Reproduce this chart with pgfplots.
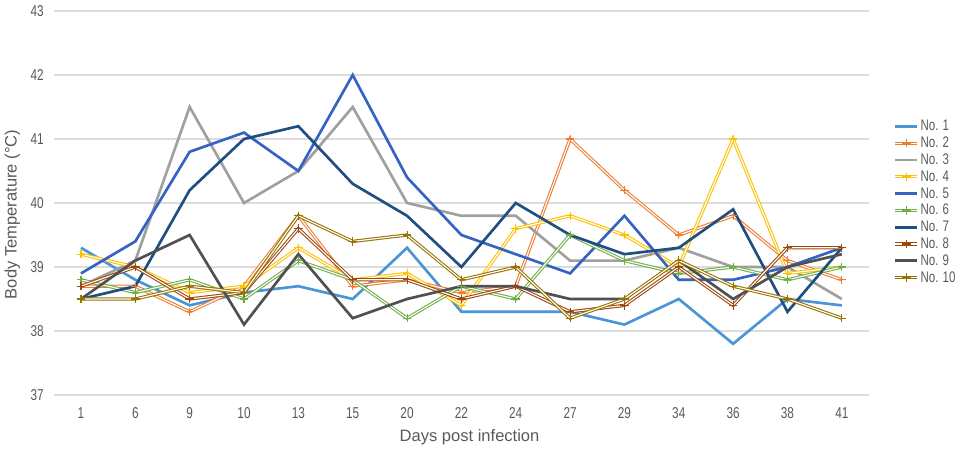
\documentclass[border=0pt]{standalone}
\usepackage{pgfplots}
\pgfplotsset{compat=1.18}
\usepackage{fontspec}
\setmainfont{Liberation Sans}
\newfontfamily\narrowfont[FakeStretch=0.75]{Liberation Sans}
\definecolor{c1}{HTML}{4A94D8}
\definecolor{c2}{HTML}{ED7D31}
\definecolor{c3}{HTML}{A0A0A0}
\definecolor{c4}{HTML}{FFC000}
\definecolor{c5}{HTML}{3463C4}
\definecolor{c6}{HTML}{70AD47}
\definecolor{c7}{HTML}{1F4E82}
\definecolor{c8}{HTML}{9E480E}
\definecolor{c9}{HTML}{505050}
\definecolor{c10}{HTML}{997300}
\definecolor{txt}{HTML}{595959}
\definecolor{gridc}{HTML}{DCDCDC}
\begin{document}
\begin{tikzpicture}
\useasboundingbox (0,0) rectangle (717.75pt,342pt);
\begin{axis}[
  at={(40.35pt,45.75pt)}, anchor=south west,
  scale only axis, width=611.4pt, height=288pt,
  xmin=-0.5, xmax=14.5, ymin=37, ymax=43,
  xtick={0,...,14},
  xticklabels={1,6,9,10,13,15,20,22,24,27,29,34,36,38,41},
  ytick={37,38,...,43},
  axis line style={draw=none},
  major tick length=0pt,
  ymajorgrids, grid style={draw=gridc, line width=0.9pt},
  /pgf/number format/assume math mode=true,
  tick label style={font=\narrowfont\fontsize{11.8}{14}\selectfont, text=txt},
  yticklabel style={xshift=-4pt},
  xticklabel style={yshift=-6pt},
  every axis y label/.style={at={(axis description cs:-0.051,0.47)}, rotate=90, anchor=center, font=\fontsize{12.4}{14}\selectfont, text=txt},
  every axis x label/.style={at={(axis description cs:0.51,-0.11)}, anchor=center, font=\fontsize{12.4}{14}\selectfont, text=txt},
  ylabel={Body Temperature (°C)},
  xlabel={Days post infection},
  legend style={at={(axis description cs:1.03,0.722)}, anchor=north west, draw=none, fill=none, inner sep=0pt,
    font=\narrowfont\fontsize{11.5}{14}\selectfont, text=txt,
    nodes={text height=8.4pt, text depth=1.8pt, inner sep=1.2pt}},
  legend cell align=left,
  legend image code/.code={\draw[mark repeat=2,mark phase=2] plot coordinates {(0pt,0pt)(8.25pt,0pt)(16.5pt,0pt)};},
  solidl/.style={line width=2pt, no marks},
  dbl/.style={draw=#1, line width=0.8pt, double=white, double distance=0.85pt, mark=+, mark size=3.2pt, mark options={solid, draw=#1, line width=0.8pt}},
]
\addplot[c1, solidl] coordinates {(0,39.3)(1,38.8)(2,38.4)(3,38.6)(4,38.7)(5,38.5)(6,39.3)(7,38.3)(8,38.3)(9,38.3)(10,38.1)(11,38.5)(12,37.8)(13,38.5)(14,38.4)};
\addlegendentry{No. 1}
\addplot[dbl=c2] coordinates {(0,38.7)(1,38.7)(2,38.3)(3,38.7)(4,39.8)(5,38.7)(6,38.8)(7,38.6)(8,38.7)(9,41.0)(10,40.2)(11,39.5)(12,39.8)(13,39.1)(14,38.8)};
\addlegendentry{No. 2}
\addplot[c3, solidl] coordinates {(0,38.7)(1,39.1)(2,41.5)(3,40.0)(4,40.5)(5,41.5)(6,40.0)(7,39.8)(8,39.8)(9,39.1)(10,39.1)(11,39.3)(12,39.0)(13,39.0)(14,38.5)};
\addlegendentry{No. 3}
\addplot[dbl=c4] coordinates {(0,39.2)(1,39.0)(2,38.6)(3,38.7)(4,39.3)(5,38.8)(6,38.9)(7,38.4)(8,39.6)(9,39.8)(10,39.5)(11,39.0)(12,41.0)(13,38.9)(14,39.0)};
\addlegendentry{No. 4}
\addplot[c5, solidl] coordinates {(0,38.9)(1,39.4)(2,40.8)(3,41.1)(4,40.5)(5,42.0)(6,40.4)(7,39.5)(8,39.2)(9,38.9)(10,39.8)(11,38.8)(12,38.8)(13,39.0)(14,39.3)};
\addlegendentry{No. 5}
\addplot[dbl=c6] coordinates {(0,38.8)(1,38.6)(2,38.8)(3,38.5)(4,39.1)(5,38.8)(6,38.2)(7,38.7)(8,38.5)(9,39.5)(10,39.1)(11,38.9)(12,39.0)(13,38.8)(14,39.0)};
\addlegendentry{No. 6}
\addplot[c7, solidl] coordinates {(0,38.5)(1,38.7)(2,40.2)(3,41.0)(4,41.2)(5,40.3)(6,39.8)(7,39.0)(8,40.0)(9,39.5)(10,39.2)(11,39.3)(12,39.9)(13,38.3)(14,39.3)};
\addlegendentry{No. 7}
\addplot[dbl=c8] coordinates {(0,38.7)(1,39.0)(2,38.5)(3,38.6)(4,39.6)(5,38.8)(6,38.8)(7,38.5)(8,38.7)(9,38.3)(10,38.4)(11,39.0)(12,38.4)(13,39.3)(14,39.3)};
\addlegendentry{No. 8}
\addplot[c9, solidl] coordinates {(0,38.5)(1,39.1)(2,39.5)(3,38.1)(4,39.2)(5,38.2)(6,38.5)(7,38.7)(8,38.7)(9,38.5)(10,38.5)(11,39.1)(12,38.5)(13,39.0)(14,39.2)};
\addlegendentry{No. 9}
\addplot[dbl=c10] coordinates {(0,38.5)(1,38.5)(2,38.7)(3,38.6)(4,39.8)(5,39.4)(6,39.5)(7,38.8)(8,39.0)(9,38.2)(10,38.5)(11,39.1)(12,38.7)(13,38.5)(14,38.2)};
\addlegendentry{No. 10}
\end{axis}
\end{tikzpicture}
\end{document}
